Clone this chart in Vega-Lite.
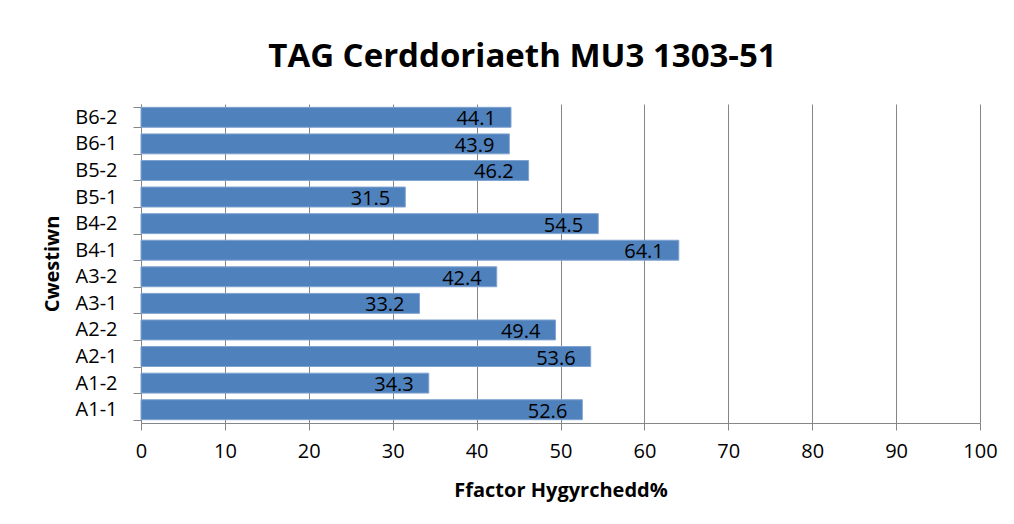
{
  "$schema": "https://vega.github.io/schema/vega-lite/v6.json",
  "width": 839,
  "height": 319,
  "autosize": "none",
  "padding": {"left": 141, "top": 104, "right": 34, "bottom": 101},
  "background": "white",
  "title": {
    "text": "TAG Cerddoriaeth MU3 1303-51",
    "font": "Open Sans",
    "fontSize": 33,
    "fontWeight": "bold",
    "color": "#000000",
    "anchor": "middle",
    "frame": "group",
    "baseline": "alphabetic",
    "offset": -6,
    "dx": -38
  },
  "data": {
    "values": [
      {"q": "B6-2", "v": 44.1},
      {"q": "B6-1", "v": 43.9},
      {"q": "B5-2", "v": 46.2},
      {"q": "B5-1", "v": 31.5},
      {"q": "B4-2", "v": 54.5},
      {"q": "B4-1", "v": 64.1},
      {"q": "A3-2", "v": 42.4},
      {"q": "A3-1", "v": 33.2},
      {"q": "A2-2", "v": 49.4},
      {"q": "A2-1", "v": 53.6},
      {"q": "A1-2", "v": 34.3},
      {"q": "A1-1", "v": 52.6}
    ]
  },
  "encoding": {
    "y": {
      "field": "q",
      "type": "nominal",
      "sort": null,
      "scale": {"paddingInner": 0.25, "paddingOuter": 0.125},
      "axis": {
        "title": "Cwestiwn",
        "titleFont": "Open Sans",
        "titleFontSize": 20,
        "titleFontWeight": "bold",
        "titleColor": "#000000",
        "titleX": -79,
        "labelFont": "Open Sans",
        "labelFontSize": 20,
        "labelColor": "#000000",
        "labelPadding": 16,
        "tickSize": 8,
        "tickBand": "extent",
        "tickColor": "#868686",
        "domainColor": "#868686",
        "grid": false
      }
    },
    "x": {
      "field": "v",
      "type": "quantitative",
      "scale": {"domain": [0, 100], "nice": false},
      "axis": {
        "title": "Ffactor Hygyrchedd%",
        "titleFont": "Open Sans",
        "titleFontSize": 20,
        "titleFontWeight": "bold",
        "titleColor": "#000000",
        "titleY": 57,
        "titleBaseline": "top",
        "values": [0, 10, 20, 30, 40, 50, 60, 70, 80, 90, 100],
        "labelFont": "Open Sans",
        "labelFontSize": 20,
        "labelColor": "#000000",
        "labelPadding": 11,
        "labelFlush": false,
        "tickSize": 7,
        "tickColor": "#868686",
        "domainColor": "#868686",
        "gridColor": "#868686",
        "gridWidth": 1
      }
    }
  },
  "layer": [
    {
      "mark": {"type": "bar", "color": "#4F81BD", "stroke": "#7FA3D0", "strokeWidth": 1}
    },
    {
      "mark": {"type": "text", "align": "right", "baseline": "middle", "dx": -15, "dy": 2, "font": "Open Sans", "fontSize": 20, "color": "#000000"},
      "encoding": {"text": {"field": "v", "type": "quantitative", "format": ".1f"}}
    }
  ],
  "config": {
    "view": {"stroke": null}
  }
}
